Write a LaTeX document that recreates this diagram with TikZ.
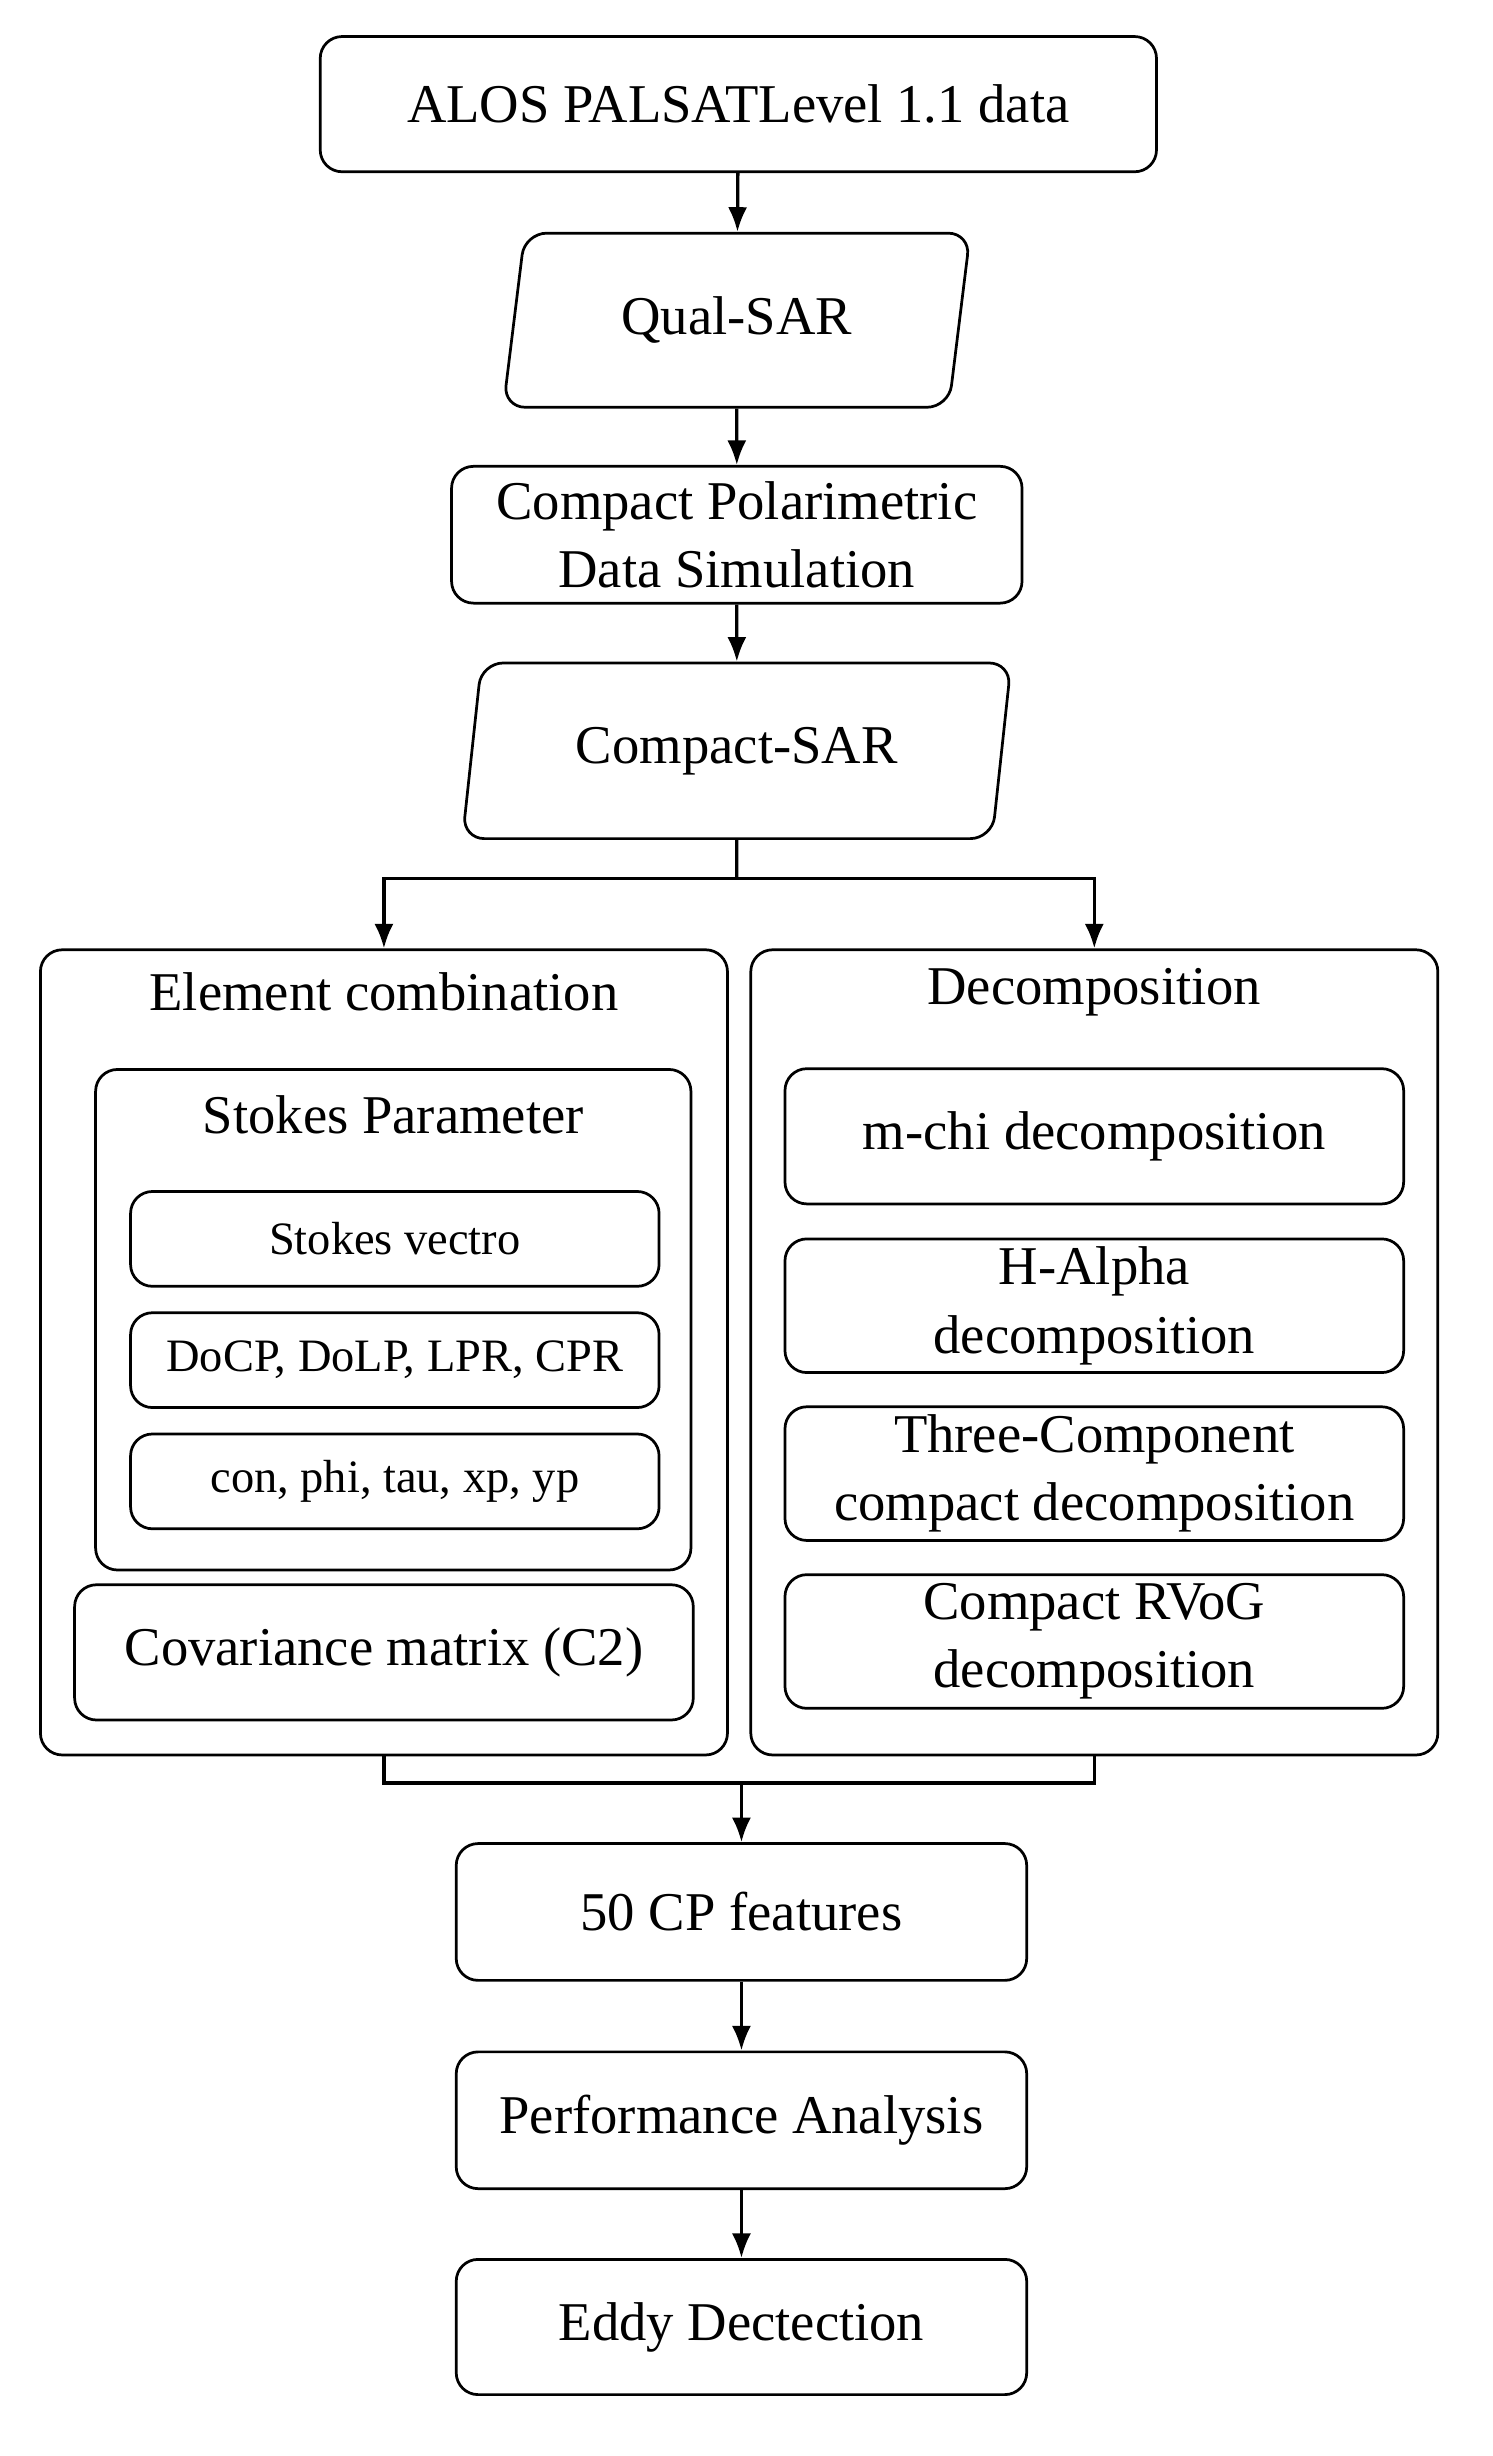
\documentclass[tikz,border=0pt]{standalone}
\usepackage{fontspec}
\setmainfont{Liberation Serif}
\usetikzlibrary{shapes.geometric,arrows.meta}
\begin{document}
\begin{tikzpicture}[x=0.02cm,y=-0.02cm,
 box/.style={draw,rounded corners=8pt,line width=1pt,align=center,inner sep=0pt,font=\fontsize{20}{25}\selectfont},
 sbox/.style={box,font=\fontsize{17}{21}\selectfont},
 para/.style={draw,trapezium,trapezium left angle=76,trapezium right angle=104,trapezium stretches=true,rounded corners=8pt,line width=1pt,font=\fontsize{20}{25}\selectfont,inner sep=0pt},
 arr/.style={-{Latex[length=9pt,width=7pt]},line width=1.2pt},
 ln/.style={line width=1.2pt}]
\useasboundingbox (0,0) rectangle (960,1580);
\node[box,minimum width=538*0.02cm,minimum height=87*0.02cm] (a) at (475,67) {ALOS PALSATLevel 1.1 data};
\node[para,minimum width=302*0.02cm,minimum height=112*0.02cm] (q) at (474,206) {Qual-SAR};
\node[box,minimum width=367*0.02cm,minimum height=88*0.02cm] (c) at (474,344) {Compact Polarimetric\\Data Simulation};
\node[para,minimum width=353*0.02cm,minimum height=113*0.02cm] (s) at (474,483) {Compact-SAR};
\node[box,minimum width=442*0.02cm,minimum height=518*0.02cm] (L) at (247,870) {};
\node[box,minimum width=442*0.02cm,minimum height=518*0.02cm] (R) at (704,870) {};
\node[font=\fontsize{20}{25}\selectfont] (Lt) at (247,638) {Element combination};
\node[font=\fontsize{20}{25}\selectfont] (Rt) at (704,638) {Decomposition};
\node[box,minimum width=383*0.02cm,minimum height=322*0.02cm] (sp) at (253,849) {};
\node[font=\fontsize{20}{25}\selectfont] (spt) at (253,717) {Stokes Parameter};
\node[sbox,minimum width=340*0.02cm,minimum height=61*0.02cm] (s1) at (254,797) {Stokes vectro};
\node[sbox,minimum width=340*0.02cm,minimum height=61*0.02cm] (s2) at (254,875) {DoCP, DoLP, LPR, CPR};
\node[sbox,minimum width=340*0.02cm,minimum height=61*0.02cm] (s3) at (254,953) {con, phi, tau, xp, yp};
\node[box,minimum width=398*0.02cm,minimum height=87*0.02cm] (cv) at (247,1063) {Covariance matrix (C2)};
\node[box,minimum width=398*0.02cm,minimum height=87*0.02cm] (d1) at (704,731) {m-chi decomposition};
\node[box,minimum width=398*0.02cm,minimum height=86*0.02cm] (d2) at (704,840) {H-Alpha\\decomposition};
\node[box,minimum width=398*0.02cm,minimum height=86*0.02cm] (d3) at (704,948) {Three-Component\\compact decomposition};
\node[box,minimum width=398*0.02cm,minimum height=86*0.02cm] (d4) at (704,1056) {Compact RVoG\\decomposition};
\node[box,minimum width=367*0.02cm,minimum height=88*0.02cm] (f) at (477,1230) {50 CP features};
\node[box,minimum width=367*0.02cm,minimum height=88*0.02cm] (p) at (477,1364) {Performance Analysis};
\node[box,minimum width=367*0.02cm,minimum height=87*0.02cm] (e) at (477,1497) {Eddy Dectection};
\coordinate (j) at (474,565);
\coordinate (k) at (477,1147);
\draw[arr] (a) -- (q);
\draw[arr] (q) -- (c);
\draw[arr] (c) -- (s);
\draw[ln] (s.south) -- (j);
\draw[arr] (j) -| (L.north);
\draw[arr] (j) -| (R.north);
\draw[ln] (L.south) |- (k) -| (R.south);
\draw[arr] (k) -- (f);
\draw[arr] (f) -- (p);
\draw[arr] (p) -- (e);
\end{tikzpicture}
\end{document}
